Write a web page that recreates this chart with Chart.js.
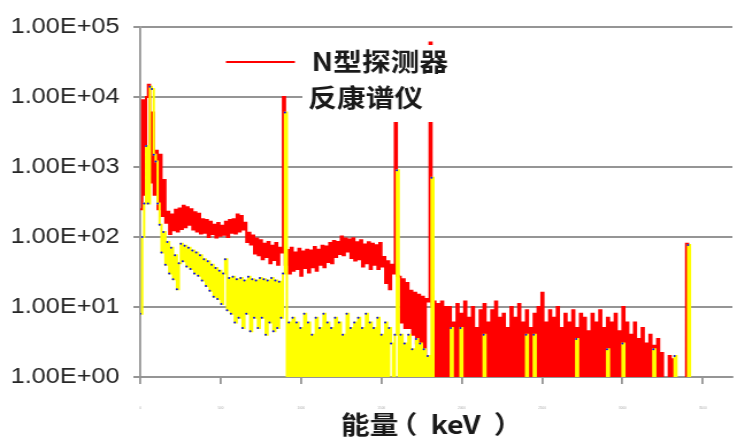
<!DOCTYPE html>
<html>
<head>
<meta charset="utf-8">
<script src="https://cdn.jsdelivr.net/npm/chart.js@4.4.1/dist/chart.umd.min.js"></script>
<style>
  html, body { margin: 0; padding: 0; background: #fff; }
</style>
</head>
<body>
<!-- drawn 641 wide and shown 737 wide: the reference is stretched sideways -->
<canvas id="chart" width="641" height="441" style="display:block;width:737px;height:441px"></canvas>
<script>
// one value per bin of 12 channels (0.5 = empty bin, below the axis)
const CH_STEP = 12;

const nTypeCounts = [
    250, 9000, 400, 10000, 15000, 600, 6000, 400, 1700, 250,
    1500, 200, 650, 160, 230, 110, 210, 125, 245, 120,
    255, 130, 280, 138, 265, 150, 250, 128, 225, 120,
    215, 112, 180, 115, 175, 100, 165, 110, 150, 98,
    158, 104, 145, 108, 165, 100, 175, 115, 180, 112,
    210, 120, 200, 128, 160, 85, 115, 78, 105, 58,
    95, 55, 90, 48, 80, 52, 85, 42, 75, 47,
    82, 40, 70, 60, 10000, 40, 65, 30, 70, 33,
    60, 35, 68, 28, 62, 36, 66, 31, 64, 37,
    72, 33, 66, 40, 75, 37, 73, 44, 82, 42,
    88, 52, 85, 57, 102, 55, 95, 62, 92, 50,
    96, 46, 84, 48, 90, 38, 78, 42, 84, 35,
    80, 40, 76, 35, 82, 38, 52, 22, 45, 18,
    40, 30, 25000, 28, 27, 6, 25, 5, 22, 5,
    17, 4, 16, 3, 15, 3, 14, 2, 13, 12,
    60000, 10, 12, 0.5, 11, 0.5, 12, 0.5, 10, 0.5,
    10, 0.5, 6, 0.5, 11, 0.5, 8, 0.5, 12, 0.5,
    7, 0.5, 10, 0.5, 5, 0.5, 9, 0.5, 11, 0.5,
    6, 0.5, 9, 0.5, 12, 0.5, 7, 0.5, 8, 0.5,
    5, 0.5, 10, 0.5, 7, 0.5, 11, 0.5, 6, 0.5,
    9, 0.5, 5, 0.5, 8, 0.5, 10, 0.5, 16, 0.5,
    6, 0.5, 9, 0.5, 7, 0.5, 10, 0.5, 5, 0.5,
    8, 0.5, 6, 0.5, 9, 0.5, 5, 0.5, 8, 0.5,
    7, 0.5, 4.5, 0.5, 8, 0.5, 6, 0.5, 9, 0.5,
    5, 0.5, 7, 0.5, 6, 0.5, 8, 0.5, 4.5, 0.5,
    10, 0.5, 6, 0.5, 4, 0.5, 6, 0.5, 3.5, 0.5,
    5, 0.5, 3, 0.5, 4, 0.5, 2.8, 0.5, 3.5, 0.5,
    2.2, 0.5, 0.5, 0.5, 2, 0.5, 1.8, 0.5, 0.5, 0.5,
    0.5, 0.5, 0.5, 80, 0.5, 0.5, 0.5, 0.5, 0.5
];

const antiComptonCounts = [
    8, 100, 300, 2000, 300, 14000, 13000, 1500, 1200, 300,
    150, 60, 118, 40, 85, 30, 70, 25, 55, 18,
    42, 80, 45, 75, 38, 70, 35, 64, 30, 60,
    28, 55, 24, 48, 20, 45, 17, 40, 14, 36,
    13, 33, 11, 30, 48, 9, 26, 8, 27, 6,
    25, 7, 26, 5, 24, 8, 27, 4.5, 25, 7,
    24, 5, 26, 7, 25, 4, 24, 6, 26, 4.5,
    24, 5, 23, 7, 30, 6000, 0.5, 6, 0.5, 7,
    0.5, 6, 0.5, 5, 0.5, 8, 0.5, 6, 0.5, 4,
    0.5, 7, 0.5, 5, 0.5, 8, 0.5, 6, 0.5, 5,
    0.5, 7, 0.5, 6, 0.5, 4, 0.5, 8, 0.5, 5,
    0.5, 6, 0.5, 7, 0.5, 5, 0.5, 8, 0.5, 6,
    0.5, 5, 0.5, 7, 0.5, 4, 0.5, 6, 0.5, 5,
    3, 0.5, 4, 900, 0.5, 4, 0.5, 3, 0.5, 4,
    0.5, 2.5, 0.5, 3.5, 0.5, 3, 0.5, 2.5, 0.5, 2,
    0.5, 700, 0.5, 0.5, 0.5, 0.5, 0.5, 0.5, 0.5, 0.5,
    0.5, 5, 0.5, 0.5, 0.5, 0.5, 5, 0.5, 0.5, 0.5,
    0.5, 0.5, 0.5, 0.5, 0.5, 0.5, 0.5, 0.5, 4, 0.5,
    0.5, 0.5, 0.5, 0.5, 0.5, 0.5, 0.5, 0.5, 0.5, 0.5,
    0.5, 0.5, 0.5, 0.5, 0.5, 0.5, 0.5, 0.5, 0.5, 0.5,
    4, 0.5, 0.5, 0.5, 4, 0.5, 0.5, 0.5, 0.5, 0.5,
    0.5, 0.5, 0.5, 0.5, 0.5, 0.5, 0.5, 0.5, 0.5, 0.5,
    0.5, 0.5, 0.5, 0.5, 0.5, 0.5, 3.5, 0.5, 0.5, 0.5,
    0.5, 0.5, 0.5, 0.5, 0.5, 0.5, 0.5, 0.5, 0.5, 0.5,
    0.5, 0.5, 2.5, 0.5, 0.5, 0.5, 0.5, 0.5, 0.5, 0.5,
    3, 0.5, 0.5, 0.5, 0.5, 0.5, 0.5, 0.5, 0.5, 0.5,
    0.5, 0.5, 0.5, 0.5, 0.5, 0.5, 2.5, 0.5, 0.5, 0.5,
    0.5, 0.5, 0.5, 0.5, 0.5, 0.5, 0.5, 2, 0.5, 0.5,
    0.5, 0.5, 0.5, 0.5, 77, 0.5, 0.5, 0.5, 0.5
];

const seriesNames = ['N型探测器', '反康谱仪'];
const yTickValues = [1, 10, 100, 1000, 10000, 100000];
const yTickLabels = ['1.00E+00', '1.00E+01', '1.00E+02', '1.00E+03', '1.00E+04', '1.00E+05'];
const xTickValues = [0, 500, 1000, 1500, 2000, 2500, 3000, 3500];
const xTickLabels = ['0', '500', '1000', '1500', '2000', '2500', '3000', '3500'];
const xTitleParts = ['能量', '（', 'keV', '）'];

const GRID = '#959595';

function toPoints(counts) {
    return counts.map((v, i) => ({ x: i * CH_STEP, y: v }));
}

// draw a piece of text so that its ink is centred on cx
function inkCentered(ctx, text, cx, y) {
    const m = ctx.measureText(text);
    ctx.fillText(text, cx + (m.actualBoundingBoxLeft - m.actualBoundingBoxRight) / 2, y);
}

// legend texts, the white box behind them and the axis title
const overlay = {
    id: 'overlay',
    afterDraw(chart) {
        const ctx = chart.ctx;
        ctx.save();
        ctx.fillStyle = '#ffffff';
        ctx.fillRect(263, 45, chart.width - 263, 77);

        ctx.strokeStyle = '#ff0000';
        ctx.lineWidth = 2;
        ctx.beginPath();
        ctx.moveTo(196.5, 62);
        ctx.lineTo(256.5, 62);
        ctx.stroke();

        ctx.fillStyle = '#1a1a1a';
        ctx.textBaseline = 'middle';
        ctx.textAlign = 'left';
        ctx.font = 'bold 25px "Noto Sans CJK SC"';
        ctx.fillText(seriesNames[0], 271, 61);
        ctx.fillText(seriesNames[1], 268, 97.5);

        // title pieces spaced like the reference: 能量 ( keV )
        ctx.font = 'bold 25px "Noto Sans CJK SC"';
        inkCentered(ctx, xTitleParts[0], 321.5, 424);
        inkCentered(ctx, xTitleParts[1], 358, 424);
        inkCentered(ctx, xTitleParts[2], 397, 424);
        inkCentered(ctx, xTitleParts[3], 434.5, 424);
        ctx.restore();
    }
};

Chart.defaults.font.family = '"Liberation Sans", Arial, sans-serif';

const chart = new Chart(document.getElementById('chart').getContext('2d'), {
    type: 'line',
    data: {
        datasets: [
            {
                label: seriesNames[0],
                data: toPoints(nTypeCounts),
                borderColor: '#ff0000',
                borderWidth: 2,
                pointRadius: 0,
                stepped: true,
                order: 2
            },
            {
                label: seriesNames[1],
                data: toPoints(antiComptonCounts),
                borderColor: '#ffff00',
                borderWidth: 2,
                pointRadius: ctx => (ctx.parsed && ctx.parsed.y > 1 ? 1 : 0),
                pointBackgroundColor: '#0000ff',
                pointBorderWidth: 0,
                stepped: true,
                order: 1
            }
        ]
    },
    options: {
        responsive: false,
        animation: false,
        devicePixelRatio: 1,
        layout: { padding: { top: 27, right: 0, bottom: 0, left: 0 } },
        plugins: {
            legend: { display: false },
            tooltip: { enabled: false }
        },
        scales: {
            x: {
                type: 'linear',
                min: 0,
                max: 3684,
                afterBuildTicks: s => { s.ticks = xTickValues.map(v => ({ value: v })); },
                afterFit: s => { s.height = 64; },
                ticks: {
                    callback: (v, i) => xTickLabels[i],
                    font: { size: 3 },
                    color: '#aaaaaa',
                    padding: 22,
                    maxRotation: 0,
                    autoSkip: false
                },
                grid: {
                    drawOnChartArea: false,
                    color: GRID,
                    lineWidth: 1.8,
                    tickLength: 7
                },
                border: { color: GRID, width: 2 }
            },
            y: {
                type: 'logarithmic',
                min: 1,
                max: 100000,
                afterBuildTicks: s => { s.ticks = yTickValues.map(v => ({ value: v })); },
                afterFit: s => { s.width = 122; },
                ticks: {
                    callback: (v, i) => yTickLabels[i],
                    font: { size: 22 },
                    color: '#262626',
                    padding: 12,
                    autoSkip: false
                },
                grid: {
                    color: GRID,
                    lineWidth: 2,
                    tickLength: 6
                },
                border: { color: GRID, width: 1.8 }
            }
        }
    },
    plugins: [overlay]
});
</script>
</body>
</html>
